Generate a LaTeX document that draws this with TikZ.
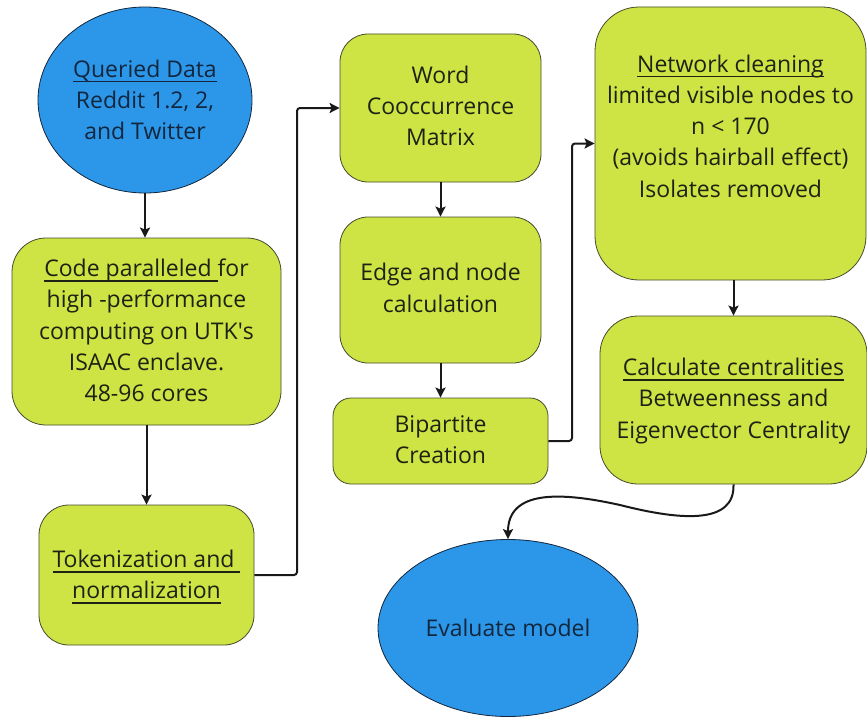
\documentclass[tikz,border=0pt]{standalone}
\usepackage{fontspec}
\setmainfont{Open Sans}
\usetikzlibrary{shapes.geometric,arrows.meta}
\newcommand\myul[1]{\leavevmode\setbox0\hbox{#1}\hbox{\rlap{\rule[-5pt]{\wd0}{1.4pt}}\box0}}
\definecolor{boxgreen}{RGB}{205,228,68}
\definecolor{ovalblue}{RGB}{44,151,232}
\definecolor{edgegray}{RGB}{70,75,45}
\definecolor{txtdark}{RGB}{30,34,20}
\definecolor{ovaltxt}{RGB}{18,38,62}
\begin{document}
\begin{tikzpicture}[x=1pt,y=-1pt,
  every node/.style={font=\fontsize{23}{31.3}\selectfont, align=center, inner sep=0pt},
  gbox/.style={draw=edgegray, line width=0.8pt, fill=boxgreen, text=txtdark},
  oval/.style={ellipse, draw=ovaltxt, line width=0.8pt, fill=ovalblue, text=ovaltxt},
  arr/.style={line width=2pt, draw=black!90, -{Stealth[length=10pt,width=10pt,inset=2pt]}, rounded corners=3pt},
  lbl/.style={text=txtdark}]
\useasboundingbox (0,0) rectangle (867,717);
% nodes
\node[oval, minimum width=214pt, minimum height=186pt] (q) at (145,100)
  {\myul{Queried Data}\\Reddit 1.2, 2,\\and Twitter};
\node[gbox, rounded corners=34pt, minimum width=269pt, minimum height=187pt] (code) at (146.5,331.5) {};
\node[lbl] (codeT) at (146.5,330.5)
  {\myul{Code paralleled }for\\high -performance\\computing on UTK\textquotesingle s\\ISAAC enclave.\\48-96 cores};
\node[gbox, rounded corners=30pt, minimum width=215pt, minimum height=140pt] (tok) at (146.5,575) {};
\node[lbl] (tokT) at (146.5,577) {\myul{Tokenization and }\\\myul{normalization}};
\node[gbox, rounded corners=28pt, minimum width=201pt, minimum height=148pt] (word) at (440.5,108) {};
\node[lbl] (wordT) at (440.5,106) {Word\\Cooccurrence\\Matrix};
\node[gbox, rounded corners=28pt, minimum width=201pt, minimum height=146pt] (edge) at (440.5,290) {};
\node[lbl] (edgeT) at (440.5,288) {Edge and node\\calculation};
\node[gbox, rounded corners=18pt, minimum width=215pt, minimum height=86pt] (bip) at (440.5,441) {};
\node[lbl] (bipT) at (440.5,439.5) {Bipartite\\Creation};
\node[gbox, rounded corners=44pt, minimum width=271pt, minimum height=273pt] (net) at (730.5,143.5) {};
\node[lbl] (netT) at (730.5,126)
  {\myul{Network cleaning}\\limited visible nodes to\\n < 170\\(avoids hairball effect)\\Isolates removed};
\node[gbox, rounded corners=38pt, minimum width=267pt, minimum height=168pt] (calc) at (733.5,400) {};
\node[lbl] (calcT) at (733.5,401)
  {\myul{Calculate centralities}\\Betweenness and\\Eigenvector Centrality};
\node[oval, minimum width=260pt, minimum height=177pt] (eval) at (508,628)
  {Evaluate model};
% connectors
\coordinate (c1) at (297,575);
\coordinate (c2) at (572,441);
\draw[arr] (q.south) -- (q.south |- code.north);
\draw[arr] (code.south) -- (tok.north);
\draw[arr] (tok.east) -- (c1) |- (word.west);
\draw[arr] (word.south) -- (edge.north);
\draw[arr] (edge.south) -- (bip.north);
\draw[arr] (bip.east) -- (c2) |- (net.west);
\draw[arr] (calc.north |- net.south) -- (calc.north);
\coordinate (m1) at (620,505);
\draw[arr] (calc.south) .. controls (735,525) and (680,520) .. (m1)
  .. controls (560,492) and (508,490) .. (eval.north);
\end{tikzpicture}
\end{document}
